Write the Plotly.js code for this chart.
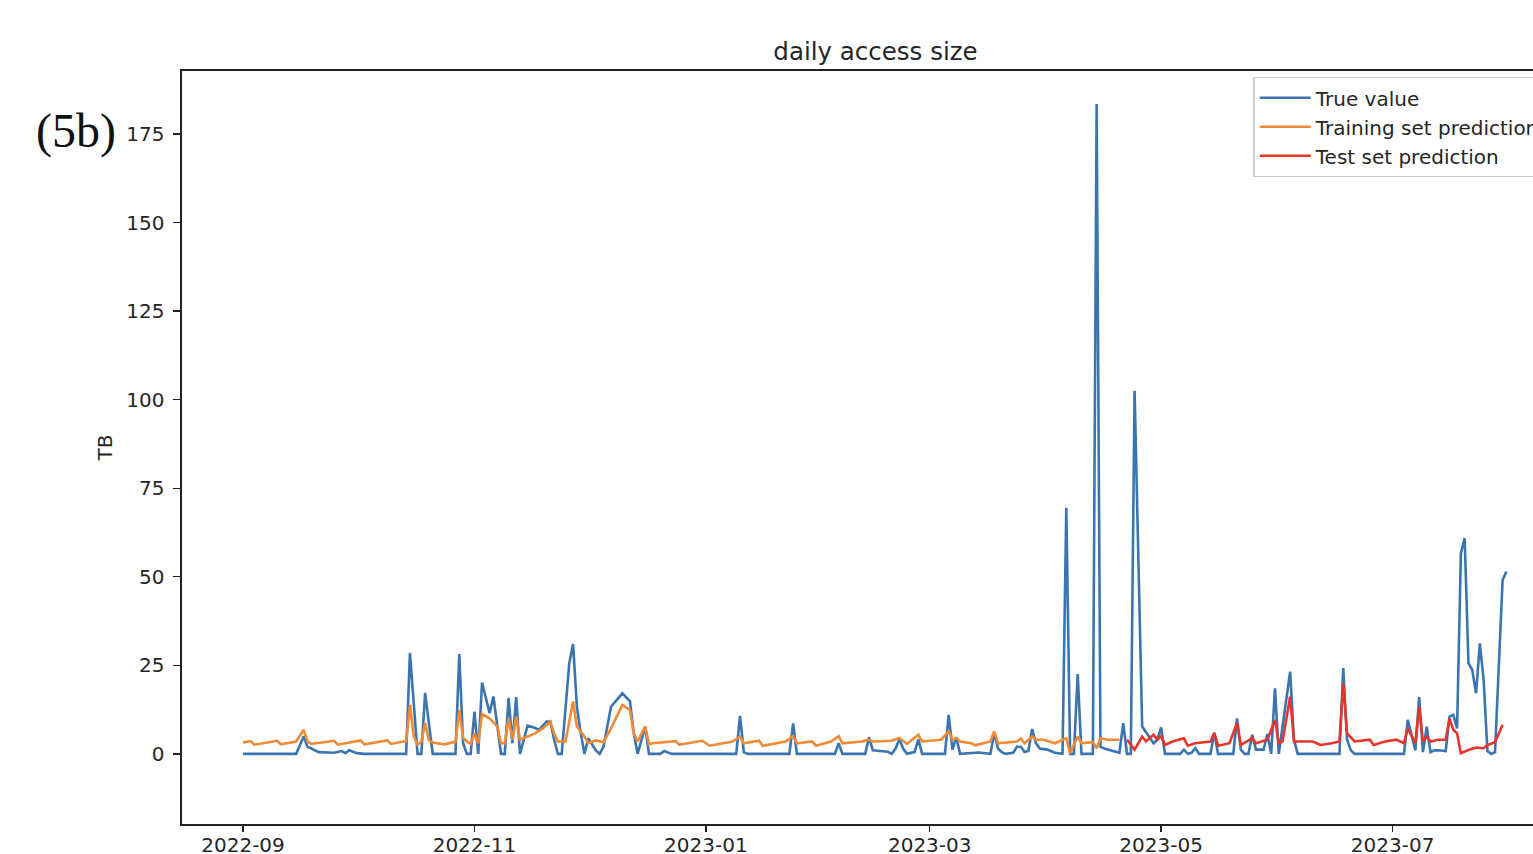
<!DOCTYPE html>
<html>
<head>
<meta charset="utf-8">
<script src="https://cdn.plot.ly/plotly-3.0.1.min.js"></script>
<style>
html, body { margin: 0; padding: 0; overflow: hidden; background: #fff; width: 1533px; height: 854px; }
#chart { width: 1600px; height: 854px; }
</style>
</head>
<body>
<div id="chart"></div>
<script>
// ---- True value (blue) ----
const trueDates = [
  "2022-09-01","2022-09-15","2022-09-17","2022-09-18","2022-09-21","2022-09-25","2022-09-27","2022-09-28","2022-09-29","2022-10-01","2022-10-03",
  "2022-10-14","2022-10-15","2022-10-17","2022-10-18","2022-10-19","2022-10-21","2022-10-27","2022-10-28","2022-10-29","2022-10-30","2022-10-31",
  "2022-11-01","2022-11-02","2022-11-03","2022-11-05","2022-11-06","2022-11-08","2022-11-09","2022-11-10","2022-11-11","2022-11-12","2022-11-13",
  "2022-11-15","2022-11-17","2022-11-18","2022-11-20","2022-11-21","2022-11-22","2022-11-23","2022-11-24","2022-11-26","2022-11-27","2022-11-28",
  "2022-11-29","2022-11-30","2022-12-01","2022-12-03","2022-12-04","2022-12-05","2022-12-07","2022-12-10","2022-12-12","2022-12-13","2022-12-14",
  "2022-12-16","2022-12-17","2022-12-20","2022-12-21","2022-12-23",
  "2023-01-09","2023-01-10","2023-01-11","2023-01-12","2023-01-23","2023-01-24","2023-01-25","2023-02-04","2023-02-05","2023-02-06",
  "2023-02-12","2023-02-13","2023-02-14","2023-02-18","2023-02-19","2023-02-20","2023-02-21","2023-02-22","2023-02-23","2023-02-25","2023-02-26","2023-02-27",
  "2023-03-05","2023-03-06","2023-03-07","2023-03-08","2023-03-09","2023-03-12","2023-03-14","2023-03-17","2023-03-18","2023-03-19","2023-03-20","2023-03-21",
  "2023-03-23","2023-03-24","2023-03-25","2023-03-26","2023-03-27","2023-03-28","2023-03-29","2023-03-30","2023-04-01","2023-04-03","2023-04-05",
  "2023-04-06","2023-04-07","2023-04-08","2023-04-09","2023-04-10","2023-04-13","2023-04-14","2023-04-15","2023-04-16","2023-04-17","2023-04-19",
  "2023-04-20","2023-04-21","2023-04-22","2023-04-23","2023-04-24","2023-04-26","2023-04-29","2023-04-30","2023-05-01","2023-05-02","2023-05-06",
  "2023-05-07","2023-05-08","2023-05-09","2023-05-10","2023-05-11","2023-05-14","2023-05-15","2023-05-16","2023-05-20","2023-05-21","2023-05-22",
  "2023-05-23","2023-05-24","2023-05-25","2023-05-26","2023-05-28","2023-05-29","2023-05-30","2023-05-31","2023-06-01","2023-06-04","2023-06-05",
  "2023-06-06","2023-06-17","2023-06-18","2023-06-19","2023-06-20","2023-06-21","2023-07-04","2023-07-05","2023-07-07","2023-07-08","2023-07-09",
  "2023-07-10","2023-07-11","2023-07-12","2023-07-13","2023-07-15","2023-07-16","2023-07-17","2023-07-18","2023-07-19","2023-07-20","2023-07-21",
  "2023-07-22","2023-07-23","2023-07-24","2023-07-25","2023-07-26","2023-07-27","2023-07-28","2023-07-30","2023-07-31"
];
const trueValues = [
  0,0,4.9,2,0.5,0.3,0.8,0.2,1,0.2,0,
  0,28.5,0,0,17.2,0,0,28.2,3,0,0,
  11.9,0,20.1,11.5,16.2,0,0,15.8,3,16,0,
  8,7.3,6.8,9.1,9.1,4,0,0,25.6,31,13.3,
  6,0,4.4,1,0,2,13.3,17.1,14.8,5.8,0,
  7.7,0,0,0.8,0,
  0,10.7,0.5,0,0,8.6,0,0,3,0,
  0,4.7,1,0.6,0,1.5,4.1,1.5,0,0.5,4.1,0,
  0,11,1.2,4.7,0,0.3,0.4,0,5.8,1.5,0.5,0,
  0.3,2,2,0.5,0.8,7,3,1.5,1.2,0.3,0,
  69.5,0,0,22.5,0,0,183.5,2,1.5,1.2,0.5,
  0.3,8.7,0,0,102.5,7.7,3,4,7.5,0,0,
  1.2,0,0.3,1.6,0,0,6,0,0,10,1.2,
  0,0,5.4,1.2,1.2,5.6,0,18.5,0,23.2,4,
  0,0,24.2,4,1,0,0,9.6,1,16,0.5,
  7.7,0.5,1,1,0.8,10.5,11,7.2,56.6,60.9,25.6,
  23.7,17.1,31.2,20.9,0.8,0,0.5,49.1,51.5
];

// ---- Training set prediction (orange) ----
const trainDates = [
  "2022-09-01","2022-09-03","2022-09-04","2022-09-08","2022-09-10","2022-09-11","2022-09-15","2022-09-17","2022-09-18","2022-09-19",
  "2022-09-23","2022-09-25","2022-09-26","2022-09-30","2022-10-02","2022-10-03","2022-10-07","2022-10-09","2022-10-10","2022-10-14",
  "2022-10-15","2022-10-16","2022-10-17","2022-10-18","2022-10-19","2022-10-20","2022-10-21","2022-10-24","2022-10-27","2022-10-28",
  "2022-10-29","2022-10-30","2022-10-31","2022-11-01","2022-11-02","2022-11-03","2022-11-05","2022-11-07","2022-11-08","2022-11-09",
  "2022-11-10","2022-11-11","2022-11-12","2022-11-13","2022-11-15","2022-11-17","2022-11-19","2022-11-21","2022-11-22","2022-11-23",
  "2022-11-25","2022-11-27","2022-11-28","2022-11-30","2022-12-01","2022-12-03","2022-12-05","2022-12-07","2022-12-10","2022-12-12",
  "2022-12-13","2022-12-14","2022-12-16","2022-12-17","2022-12-18","2022-12-21","2022-12-24","2022-12-25","2022-12-31","2023-01-02",
  "2023-01-08","2023-01-10","2023-01-11","2023-01-15","2023-01-16","2023-01-22","2023-01-24","2023-01-25","2023-01-29","2023-01-30",
  "2023-02-03","2023-02-05","2023-02-06","2023-02-11","2023-02-13","2023-02-14","2023-02-19","2023-02-21","2023-02-23","2023-02-26",
  "2023-02-27","2023-03-04","2023-03-06","2023-03-07","2023-03-08","2023-03-09","2023-03-12","2023-03-13","2023-03-17","2023-03-18",
  "2023-03-19","2023-03-24","2023-03-25","2023-03-26","2023-03-28","2023-03-29","2023-03-31","2023-04-03","2023-04-06","2023-04-07",
  "2023-04-09","2023-04-10","2023-04-13","2023-04-14","2023-04-15","2023-04-17","2023-04-20"
];
const trainValues = [
  3.2,3.6,2.6,3.4,3.7,2.7,3.5,6.8,3.5,2.8,
  3.3,3.7,2.6,3.4,3.8,2.7,3.4,3.8,2.8,3.6,
  13.8,5,2.6,3.5,8.7,3.8,3.2,2.7,3.4,12.4,
  4.5,3.5,2.8,5.8,3,11.3,10,7.7,3,3,
  10,4,10.5,4,4.9,5.8,7.2,9.1,5.8,3.5,
  3.5,14.8,7.7,4.9,3,3.8,3.3,7.2,13.8,12.4,
  5.8,3.5,7.7,2.7,3,3.3,3.6,2.6,3.7,2.3,
  3.5,4.9,3,3.7,2.3,3.5,5,3,3.5,2.3,
  3.5,5,3,3.5,4,3.5,3.7,4.5,2.8,5.4,
  3.5,4,6.3,4,4.5,3.5,3,2.4,3.5,6.3,
  3,3.5,4.4,3,4.9,4,4,3,4.4,0.2,
  4.9,3,3.3,1.6,4.4,4,4
];

// ---- Test set prediction (red) ----
const testDates = [
  "2023-04-22","2023-04-24","2023-04-26","2023-04-27","2023-04-29","2023-04-30","2023-05-01","2023-05-02","2023-05-04","2023-05-07",
  "2023-05-08","2023-05-10","2023-05-14","2023-05-15","2023-05-16","2023-05-19","2023-05-21","2023-05-22","2023-05-25","2023-05-26",
  "2023-05-29","2023-05-31","2023-06-01","2023-06-02","2023-06-04","2023-06-05","2023-06-10","2023-06-12","2023-06-15","2023-06-17",
  "2023-06-18","2023-06-19","2023-06-21","2023-06-25","2023-06-26","2023-06-29","2023-07-02","2023-07-04","2023-07-05","2023-07-07",
  "2023-07-08","2023-07-09","2023-07-10","2023-07-11","2023-07-13","2023-07-15","2023-07-16","2023-07-17","2023-07-18","2023-07-19",
  "2023-07-21","2023-07-23","2023-07-25","2023-07-26","2023-07-28","2023-07-30"
];
const testValues = [
  4,1.2,4.9,3.5,5.4,4,5,2.5,3.5,4.4,
  2.3,3,3.5,5.9,2.3,3,8.7,2.5,4.4,3,
  4,9.6,3,3.5,16.2,3.5,3.5,2.5,3,3.5,
  20,5.8,3.5,4,2.5,3.5,4,3,7.2,3,
  13.3,3.5,4.9,3.5,4,4,10,6.8,5.8,0.2,
  1.1,1.8,1.6,2.5,3.3,8.2
];

const legendNames = ["True value", "Training set prediction", "Test set prediction"];
const chartTitle = "daily access size";
const yTitle = "TB";
const panelLabel = "(5b)";

const traces = [
  { x: trueDates, y: trueValues, type: "scatter", mode: "lines", name: legendNames[0],
    line: { color: "#3a75b0", width: 2.6 } },
  { x: trainDates, y: trainValues, type: "scatter", mode: "lines", name: legendNames[1],
    line: { color: "#f08a35", width: 2.6 } },
  { x: testDates, y: testValues, type: "scatter", mode: "lines", name: legendNames[2],
    line: { color: "#e8342b", width: 2.6 } }
];

const tickFont = { family: "DejaVu Sans, sans-serif", size: 20, color: "#262626" };

const layout = {
  width: 1600, height: 854,
  margin: { l: 182, r: 31, t: 71, b: 30 },
  paper_bgcolor: "#ffffff", plot_bgcolor: "#ffffff",
  showlegend: true,
  title: { text: chartTitle, x: 0.5, xref: "paper", y: 1 - 51 / 854, yanchor: "middle",
           font: { family: "DejaVu Sans, sans-serif", size: 24.5, color: "#262626" } },
  xaxis: {
    type: "date",
    range: ["2022-08-15 22:00", "2023-08-16 12:00"],
    tick0: "2022-09-01", dtick: "M2", tickformat: "%Y-%m",
    showgrid: false, zeroline: false,
    showline: true, linecolor: "#222", linewidth: 1.6, mirror: true,
    ticks: "outside", ticklen: 6, tickwidth: 1.4, tickcolor: "#222",
    ticklabelstandoff: -4,
    tickfont: tickFont
  },
  yaxis: {
    range: [-19.8, 192.8],
    tick0: 0, dtick: 25,
    showgrid: false, zeroline: false,
    showline: true, linecolor: "#222", linewidth: 1.6, mirror: true,
    ticks: "outside", ticklen: 7, tickwidth: 1.4, tickcolor: "#222",
    ticklabelstandoff: 5,
    tickfont: tickFont,
    title: { text: yTitle, standoff: 8, font: { family: "DejaVu Sans, sans-serif", size: 20, color: "#262626" } }
  },
  legend: {
    x: 0.7725, y: 0.992, xanchor: "left", yanchor: "top",
    bgcolor: "rgba(255,255,255,0.9)", bordercolor: "#cccccc", borderwidth: 1.3,
    font: { family: "DejaVu Sans, sans-serif", size: 20, color: "#262626" },
    itemwidth: 51,
    tracegroupgap: 0
  },
  annotations: [
    { text: panelLabel, xref: "paper", yref: "paper", x: -0.107, y: 0.92,
      xanchor: "left", yanchor: "middle", showarrow: false,
      font: { family: "Liberation Serif, DejaVu Serif, serif", size: 48, color: "#111" } }
  ]
};

Plotly.newPlot("chart", traces, layout, { displayModeBar: false, staticPlot: true });
</script>
</body>
</html>
